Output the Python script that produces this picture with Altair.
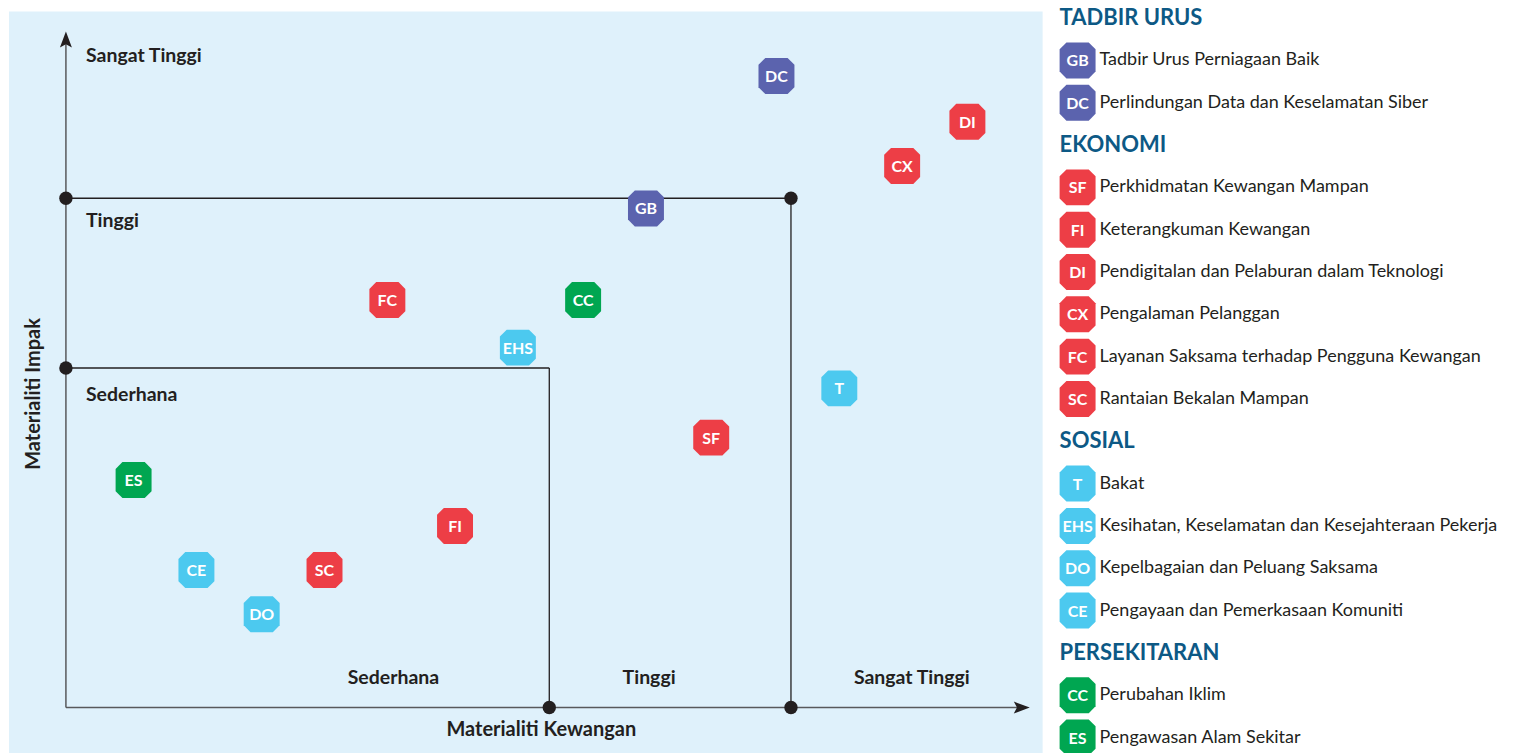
import altair as alt
import pandas as pd

# ---------------- data ----------------
codes = ["DC", "DI", "CX", "GB", "FC", "CC", "EHS", "T", "SF", "ES", "FI", "CE", "SC", "DO"]
groups = ["Tadbir Urus", "Ekonomi", "Ekonomi", "Tadbir Urus", "Ekonomi", "Persekitaran", "Sosial",
          "Sosial", "Ekonomi", "Persekitaran", "Ekonomi", "Sosial", "Ekonomi", "Sosial"]
materialiti_kewangan = [2.94, 3.73, 3.46, 2.40, 1.33, 2.14, 1.87, 3.20, 2.67, 0.28, 1.61, 0.54, 1.07, 0.81]
materialiti_impak = [3.72, 3.45, 3.19, 2.94, 2.40, 2.40, 2.12, 1.88, 1.59, 1.34, 1.07, 0.81, 0.81, 0.55]

group_names = ["Tadbir Urus", "Ekonomi", "Sosial", "Persekitaran"]
group_colors = ["#5b63ae", "#ed3e46", "#4cc9ef", "#00a651"]
group_headers = ["TADBIR URUS", "EKONOMI", "SOSIAL", "PERSEKITARAN"]

legend_codes = [["GB", "DC"],
                ["SF", "FI", "DI", "CX", "FC", "SC"],
                ["T", "EHS", "DO", "CE"],
                ["CC", "ES"]]
legend_texts = [["Tadbir Urus Perniagaan Baik", "Perlindungan Data dan Keselamatan Siber"],
                ["Perkhidmatan Kewangan Mampan", "Keterangkuman Kewangan",
                 "Pendigitalan dan Pelaburan dalam Teknologi", "Pengalaman Pelanggan",
                 "Layanan Saksama terhadap Pengguna Kewangan", "Rantaian Bekalan Mampan"],
                ["Bakat", "Kesihatan, Keselamatan dan Kesejahteraan Pekerja",
                 "Kepelbagaian dan Peluang Saksama", "Pengayaan dan Pemerkasaan Komuniti"],
                ["Perubahan Iklim", "Pengawasan Alam Sekitar"]]

level_names = ["Sederhana", "Tinggi", "Sangat Tinggi"]
thresholds = [2, 3]

# ---------------- styling ----------------
FONT = "Lato"
INK = "#231f20"
AXIS_INK = "#58595b"
BG = "#dff1fb"
HEADER = "#0d5985"
OCT = "M-0.62,-1L0.62,-1L1,-0.62L1,0.62L0.62,1L-0.62,1L-1,0.62L-1,-0.62Z"
ARROW_RIGHT = "M-1,-0.75L1,0L-1,0.75L-0.6,0Z"
ARROW_UP = "M-0.75,1L0,-1L0.75,1L0,0.6Z"

color_scale = alt.Scale(domain=group_names, range=group_colors)
xs = alt.Scale(domain=[-0.2686, 4.0413], nice=False, zero=False)
ys = alt.Scale(domain=[-0.2706, 4.1588], nice=False, zero=False)


def X(f="x"):
    return alt.X(f"{f}:Q", scale=xs, axis=None)


def Y(f="y"):
    return alt.Y(f"{f}:Q", scale=ys, axis=None)


pts = pd.DataFrame({"code": codes, "group": groups,
                    "x": materialiti_kewangan, "y": materialiti_impak})

# background panel
panel = alt.Chart(pd.DataFrame({"x": [-0.2355], "x2": [4.0413], "y": [-0.2706], "y2": [4.1]})).mark_rect(
    color=BG).encode(x=X(), x2="x2:Q", y=Y(), y2="y2:Q")

t1, t2 = thresholds
axes_df = pd.DataFrame({"x": [0, 0], "y": [0, 0], "x2": [3.955, 0], "y2": [0, 3.935]})
grid_df = pd.DataFrame({"x": [0, t2, 0, t1], "y": [t2, 0, t1, 0],
                        "x2": [t2, t2, t1, t1], "y2": [t2, t2, t1, t1]})
nodes = pd.DataFrame({"x": [0, t2, 0, t1, t2], "y": [t2, t2, t1, 0, 0]})

axis_lines = alt.Chart(axes_df).mark_rule(strokeWidth=1.5, color=AXIS_INK).encode(
    x=X(), y=Y(), x2="x2:Q", y2="y2:Q")
grid_lines = alt.Chart(grid_df).mark_rule(strokeWidth=1.3, color=INK).encode(
    x=X(), y=Y(), x2="x2:Q", y2="y2:Q")
dots = alt.Chart(nodes).mark_point(filled=True, size=180, color=INK, opacity=1).encode(x=X(), y=Y())

arr_r = alt.Chart(pd.DataFrame({"x": [3.955], "y": [0]})).mark_point(
    shape=ARROW_RIGHT, filled=True, size=256, color=INK, opacity=1).encode(x=X(), y=Y())
arr_u = alt.Chart(pd.DataFrame({"x": [0], "y": [3.935]})).mark_point(
    shape=ARROW_UP, filled=True, size=256, color=INK, opacity=1).encode(x=X(), y=Y())

# level labels
ylev = pd.DataFrame({"t": level_names, "x": [0.083] * 3, "y": [1.84, 2.865, 3.835]})
xlev = pd.DataFrame({"t": level_names, "x": [1.355, 2.413, 3.50], "y": [0.176] * 3})
ylev_text = alt.Chart(ylev).mark_text(font=FONT, fontWeight="bold", fontSize=19.5, color=INK,
                                      align="left", baseline="middle").encode(x=X(), y=Y(), text="t:N")
xlev_text = alt.Chart(xlev).mark_text(font=FONT, fontWeight="bold", fontSize=19.5, color=INK,
                                      align="center", baseline="middle").encode(x=X(), y=Y(), text="t:N")

titles_x = alt.Chart(pd.DataFrame({"t": ["Materialiti Kewangan"], "x": [1.967], "y": [-0.135]})).mark_text(
    font=FONT, fontWeight="bold", fontSize=20, color=INK, baseline="middle").encode(x=X(), y=Y(), text="t:N")
titles_y = alt.Chart(pd.DataFrame({"t": ["Materialiti Impak"], "x": [-0.132], "y": [1.847]})).mark_text(
    font=FONT, fontWeight="bold", fontSize=20, color=INK, baseline="middle", angle=270).encode(
    x=X(), y=Y(), text="t:N")

markers = alt.Chart(pts).mark_point(shape=OCT, filled=True, size=1296, opacity=1).encode(
    x=X(), y=Y(), color=alt.Color("group:N", scale=color_scale, legend=None))
marker_text = alt.Chart(pts).mark_text(font=FONT, fontWeight="bold", fontSize=16, color="white",
                                       baseline="middle", dy=1).encode(x=X(), y=Y(), text="code:N")

plot = alt.layer(panel, axis_lines, grid_lines, dots, arr_r, arr_u, ylev_text, xlev_text,
                 titles_x, titles_y, markers, marker_text).properties(width=1043, height=753)

# ---------------- legend ----------------
rows = []
i = 0
for g, h, cl, tl in zip(group_names, group_headers, legend_codes, legend_texts):
    rows.append({"row": i, "kind": "header", "code": "", "text": h, "group": g})
    i += 1
    for c, t in zip(cl, tl):
        rows.append({"row": i, "kind": "item", "code": c, "text": t, "group": g})
        i += 1
leg = pd.DataFrame(rows)
ly = alt.Y("row:Q", scale=alt.Scale(domain=[-0.392, 17.378], reverse=True, nice=False, zero=False),
           axis=None)

base = alt.Chart(leg)
leg_head = base.transform_filter(alt.datum.kind == "header").mark_text(
    font=FONT, fontWeight="bold", fontSize=22, color=HEADER, align="left", baseline="middle", dy=0).encode(
    x=alt.value(2), y=ly, text="text:N")
leg_box = base.transform_filter(alt.datum.kind == "item").mark_point(
    shape=OCT, filled=True, size=1296, opacity=1, clip=True).encode(
    x=alt.value(20), y=ly, color=alt.Color("group:N", scale=color_scale, legend=None))
leg_code = base.transform_filter(alt.datum.kind == "item").mark_text(
    font=FONT, fontWeight="bold", fontSize=16, color="white", baseline="middle", dy=1, clip=True).encode(
    x=alt.value(20), y=ly, text="code:N")
leg_label = base.transform_filter(alt.datum.kind == "item").mark_text(
    font=FONT, fontSize=18, color=INK, align="left", baseline="middle", clip=True).encode(
    x=alt.value(42), y=ly, text="text:N")

legend = alt.layer(leg_head, leg_box, leg_code, leg_label).properties(width=470, height=753)

chart = alt.hconcat(plot, legend, spacing=15, bounds="flush").properties(
    padding={"left": 0, "top": 0, "right": 0, "bottom": 0},
    background="white",
).configure_view(stroke="transparent")

chart.save("out.html", embed_options={"renderer": "svg", "actions": False})
